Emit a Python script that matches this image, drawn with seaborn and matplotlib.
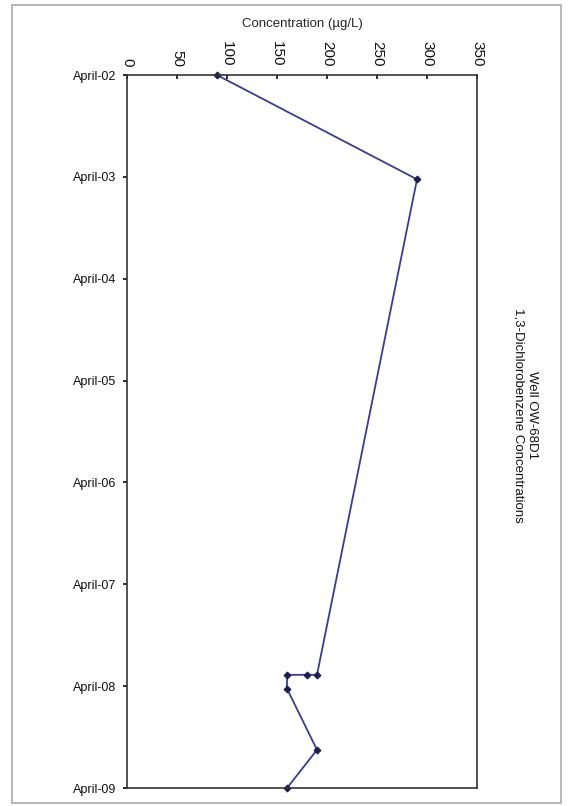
import pandas as pd
import seaborn as sns
import matplotlib.pyplot as plt
import matplotlib.dates as mdates
from matplotlib.patches import Rectangle

# sample dates and 1,3-dichlorobenzene results (ug/L)
sample_dates = ["2002-04-01", "2003-04-10", "2008-02-20", "2008-02-20",
                "2008-02-20", "2008-04-10", "2008-11-15", "2009-04-01"]
concentrations = [90, 290, 190, 180, 160, 160, 190, 160]
tick_years = list(range(2002, 2010))

sns.set_theme(style="white")
plt.rcParams['font.family'] = ['Liberation Sans', 'DejaVu Sans']
plt.rcParams['text.color'] = '#111111'
plt.rcParams['xtick.color'] = '#111111'
plt.rcParams['ytick.color'] = '#111111'

data = pd.DataFrame({"Date": pd.to_datetime(sample_dates), "Conc": concentrations})

fig = plt.figure(figsize=(5.68, 8.06), dpi=100)
fig.patches.append(Rectangle((0.021, 0.004), 0.966, 0.99, transform=fig.transFigure,
                             fill=False, edgecolor="#aaaaaa", linewidth=1.2))
ax = fig.add_axes([0.2236, 0.0223, 0.6162, 0.8846])

sns.lineplot(data=data, x="Conc", y="Date", sort=False, estimator=None, ax=ax,
             color="#3c3c8e", linewidth=1.3, marker="D", markersize=3.5,
             markerfacecolor="#1c1c50", markeredgecolor="#1c1c50", clip_on=False)

ax.set_xlim(0, 350)
ax.set_xticks(range(0, 351, 50))
ax.xaxis.tick_top()
ax.xaxis.set_label_position("top")
ax.set_xlabel("Concentration (\u00b5g/L)", fontsize=9.5, labelpad=10)
ax.tick_params(axis="x", labelrotation=-90, labelsize=11, length=3, direction="in", pad=6)

ticks = pd.to_datetime([f"{y}-04-01" for y in tick_years])
ax.set_yticks(ticks)
ax.yaxis.set_major_formatter(mdates.DateFormatter("April-%y"))
ax.set_ylim(ticks[-1], ticks[0])
ax.set_ylabel("")
ax.tick_params(axis="y", labelsize=9, length=3, direction="out", left=True, pad=5)

for s in ax.spines.values():
    s.set_color("#333333")
    s.set_linewidth(1.2)

fig.text(0.925, 0.485, "Well OW-68D1\n1,3-Dichlorobenzene Concentrations",
         rotation=-90, ha="center", va="center", fontsize=9.5, multialignment="center")

fig.savefig("out.png", dpi=100)
